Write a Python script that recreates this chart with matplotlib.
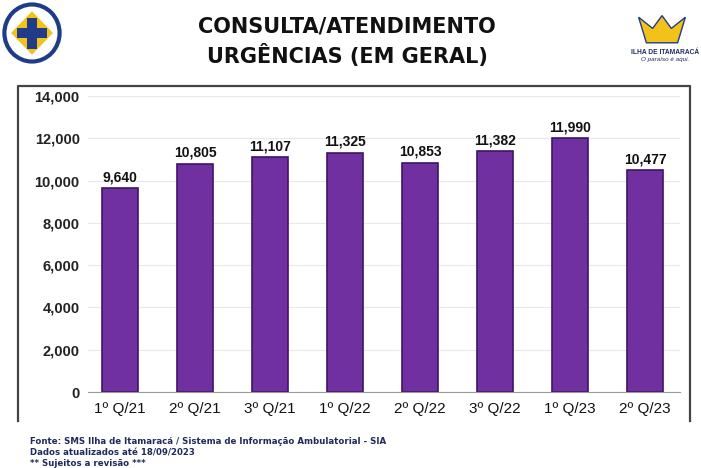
import matplotlib
matplotlib.use('Agg')
import matplotlib.pyplot as plt
from matplotlib.lines import Line2D
from matplotlib.patches import Circle, Polygon

# data
categories = ['1º Q/21', '2º Q/21', '3º Q/21', '1º Q/22', '2º Q/22', '3º Q/22', '1º Q/23', '2º Q/23']
values = [9640, 10805, 11107, 11325, 10853, 11382, 11990, 10477]
yticks = [0, 2000, 4000, 6000, 8000, 10000, 12000, 14000]

title_lines = ['CONSULTA/ATENDIMENTO', 'URGÊNCIAS (EM GERAL)']
footer = ['Fonte: SMS Ilha de Itamaracá / Sistema de Informação Ambulatorial - SIA',
          'Dados atualizados até 18/09/2023',
          '** Sujeitos a revisão ***']

W, H = 701, 468
BAR = '#7030A0'
EDGE = '#3E1466'
ARIAL = ['Liberation Sans', 'DejaVu Sans']

fig = plt.figure(figsize=(W / 100, H / 100), dpi=100)
fig.patch.set_facecolor('white')

def fx(px):
    return px / W

def fy(py):
    return 1 - py / H

# title
fig.text(fx(347), fy(27), title_lines[0], ha='center', va='center',
         fontsize=15, fontweight='bold', color='#111111')
fig.text(fx(347), fy(56), title_lines[1], ha='center', va='center',
         fontsize=15, fontweight='bold', color='#111111')

# chart frame (left, top, right)
frame_x = [fx(18), fx(18), fx(690), fx(690)]
frame_y = [fy(421), fy(86), fy(86), fy(421)]
fig.add_artist(Line2D(frame_x, frame_y, color='#444444', linewidth=1.6))

# axes
left, right, top, bottom = 88, 680, 96, 392
ax = fig.add_axes([fx(left), fy(bottom), fx(right - left), (bottom - top) / H])
x = list(range(len(categories)))
ax.bar(x, values, width=0.49, color=BAR, edgecolor=EDGE, linewidth=1.2, zorder=3)
ax.set_xlim(-(120 - left) / 75, 7 + (right - 645) / 75)
ax.set_ylim(0, 14000)
ax.set_yticks(yticks)
ax.set_yticklabels([f'{v:,}' for v in yticks], fontsize=10.5, fontweight='bold',
                   color='#222222', family=ARIAL)
ax.set_xticks(x)
ax.set_xticklabels(categories, fontsize=11, color='#111111', family=ARIAL)
ax.tick_params(axis='both', length=0)
ax.tick_params(axis='y', pad=6)
ax.tick_params(axis='x', pad=7)
ax.grid(axis='y', color='#e8e8e8', linewidth=0.8, zorder=0)
for s in ax.spines.values():
    s.set_visible(False)
ax.spines['bottom'].set_visible(True)
ax.spines['bottom'].set_color('#9a9a9a')
ax.spines['bottom'].set_zorder(4)

for xi, v in zip(x, values):
    ax.text(xi, v + 180, f'{v:,}', ha='center', va='bottom',
            fontsize=10, fontweight='bold', color='#111111', family=ARIAL)

# footer
for i, line in enumerate(footer):
    fig.text(fx(30), fy(441 + i * 11.5), line, ha='left', va='center',
             fontsize=6.2, fontweight='bold', color='#1f2b5c')

# simple logo sketches
lg = fig.add_axes([fx(2), fy(64), fx(60), 62 / H])
lg.set_xlim(0, 1); lg.set_ylim(0, 1); lg.axis('off')
lg.add_patch(Circle((0.5, 0.5), 0.46, facecolor='white', edgecolor='#1f3c88', linewidth=3))
lg.add_patch(Polygon([(0.5, 0.85), (0.85, 0.5), (0.5, 0.15), (0.15, 0.5)], facecolor='#f2c21b'))
lg.add_patch(Polygon([(0.42, 0.75), (0.58, 0.75), (0.58, 0.58), (0.75, 0.58), (0.75, 0.42),
                      (0.58, 0.42), (0.58, 0.25), (0.42, 0.25), (0.42, 0.42), (0.25, 0.42),
                      (0.25, 0.58), (0.42, 0.58)], facecolor='#1f3c88'))

rg = fig.add_axes([fx(636), fy(46), fx(52), 32 / H])
rg.set_xlim(0, 1); rg.set_ylim(0, 1); rg.axis('off')
rg.add_patch(Polygon([(0.2, 0.1), (0.8, 0.1), (0.95, 0.9), (0.68, 0.55), (0.5, 0.95),
                      (0.32, 0.55), (0.05, 0.9)], facecolor='#f2c21b', edgecolor='#1f3c88'))
fig.text(fx(665), fy(52), 'ILHA DE ITAMARACÁ', ha='center', va='center',
         fontsize=4.8, fontweight='bold', color='#1f2b5c', family=ARIAL)
fig.text(fx(665), fy(59), 'O paraíso é aqui.', ha='center', va='center',
         fontsize=4.5, style='italic', color='#1f2b5c', family=ARIAL)

fig.savefig('out.png', dpi=100)
